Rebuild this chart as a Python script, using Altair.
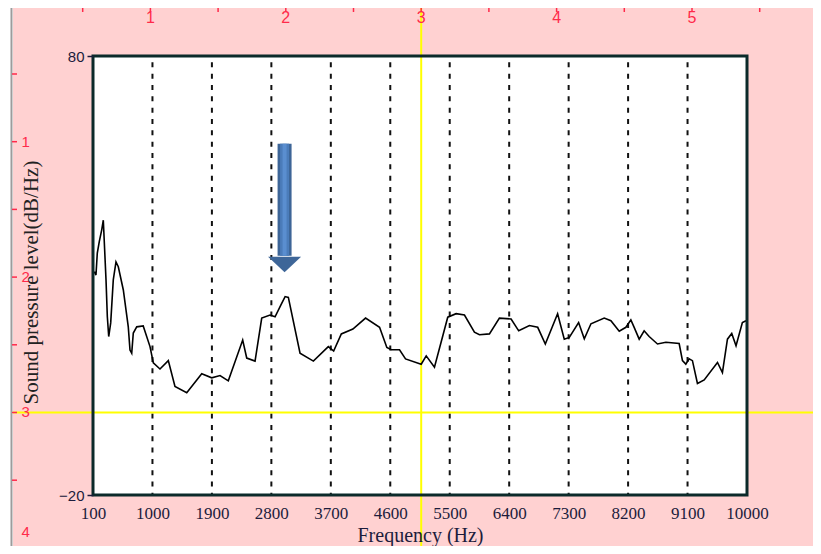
import altair as alt
import pandas as pd

# ---- spectrum ----
freq = [120, 145, 165, 195, 232, 256, 297, 317, 338, 368,
        407, 448, 483, 559, 600, 634, 660, 686, 710, 762,
        860, 963, 1013, 1114, 1240, 1341, 1519, 1746, 1897, 2023,
        2148, 2366, 2427, 2553, 2654, 2780, 2856, 2945, 3008, 3057,
        3234, 3436, 3662, 3743, 3859, 4034, 4226, 4438, 4548, 4615,
        4740, 4831, 5068, 5144, 5269, 5470, 5597, 5723, 5874, 5950,
        6101, 6252, 6429, 6544, 6706, 6832, 6947, 7133, 7234, 7310,
        7451, 7537, 7638, 7839, 7940, 8066, 8167, 8242, 8292, 8368,
        8443, 8519, 8645, 8772, 8973, 9023, 9074, 9124, 9174, 9250,
        9352, 9553, 9628, 9704, 9769, 9834, 9930, 9985]
spl = [30.9, 30.1, 35.1, 37.7, 40.4, 42.6, 29.0, 20.6, 16.1, 19.2,
       29.0, 33.1, 32.0, 26.7, 22.1, 18.3, 13.0, 12.3, 16.9, 18.3,
       18.5, 13.8, 10.1, 8.7, 10.6, 4.7, 3.3, 7.6, 6.7, 7.2,
       6.0, 15.3, 11.2, 10.5, 20.3, 21.0, 20.6, 23.3, 25.2, 25.0,
       12.3, 10.5, 13.8, 12.8, 16.7, 17.8, 20.3, 18.2, 13.6, 13.1,
       13.1, 11.0, 9.8, 11.7, 9.1, 20.5, 21.3, 21.0, 17.1, 16.5,
       16.7, 20.3, 20.1, 17.4, 18.6, 18.2, 14.4, 21.3, 15.5, 15.9,
       19.3, 15.6, 19.0, 20.3, 19.7, 17.3, 18.2, 19.9, 18.2, 15.5,
       17.4, 16.1, 14.4, 14.8, 14.5, 10.6, 9.8, 11.0, 10.6, 5.4,
       6.2, 10.2, 7.9, 15.5, 16.8, 14.0, 19.3, 19.7]

x_ticks = [100, 1000, 1900, 2800, 3700, 4600, 5500, 6400, 7300, 8200, 9100, 10000]
grid_x = x_ticks[1:-1]
y_ticks = [-20, 80]
x_domain = [100, 10000]
y_domain = [-20, 80]

# arrow annotation (Hz, dB)
arrow_freq = [3000]
arrow_top = [60.0]
arrow_bottom = [34.5]
arrow_head = [32.5]

# ruler (ruler units)
ruler_top_labels = [1, 2, 3, 4, 5]
ruler_top_ticks = [0.5, 1, 1.5, 2, 2.5, 3, 3.5, 4, 4.5, 5, 5.5]
ruler_left_labels = [1, 2, 3, 4]
ruler_left_label_pos = [1, 2, 3, 3.88]   # last one nudged up so it stays inside the page
ruler_left_ticks = [0.5, 1, 1.5, 2, 2.5, 3, 3.5, 4]
cursor_u = [3]
cursor_v = [3]
ruler_x_domain = [0.5761, 5.4062]
ruler_y_domain = [0.3671, 3.6093]

PINK = "#ffd1d1"
RED = "#ff2a4a"
YELLOW = "#ffff00"
INK = "#1c1c3c"
FRAME = "#0b2a2a"

W, H = 654, 439
HZ = alt.Scale(domain=x_domain, nice=False, zero=False)
DB = alt.Scale(domain=y_domain, nice=False, zero=False)
RX = alt.Scale(domain=ruler_x_domain, nice=False, zero=False)
RY = alt.Scale(domain=ruler_y_domain, nice=False, zero=False, reverse=True)


def RXc(f):
    return alt.X(f, type="quantitative", scale=RX, axis=None)


def RYc(f):
    return alt.Y(f, type="quantitative", scale=RY, axis=None)


def HXc(f):
    return alt.X(f, type="quantitative", scale=HZ, axis=None)


def DYc(f):
    return alt.Y(f, type="quantitative", scale=DB, axis=None)


# background chrome (ruler coordinates)
pink = alt.Chart(pd.DataFrame({"x0": [-0.0148], "x1": [6.2], "y0": [-0.1], "y1": [4.3]})).mark_rect(
    color=PINK).encode(x=RXc("x0"), x2="x1", y=RYc("y0"), y2="y1")
edge = alt.Chart(pd.DataFrame({"u": [-0.026], "y0": [-0.1], "y1": [4.3]})).mark_rule(
    color="#9c9c9c", strokeWidth=2).encode(x=RXc("u"), y=RYc("y0"), y2="y1")

white = alt.Chart(pd.DataFrame({"f0": [x_domain[0]], "f1": [x_domain[1]],
                                "d0": [y_domain[0]], "d1": [y_domain[1]]})).mark_rect(
    color="white").encode(x=HXc("f0"), x2="f1", y=DYc("d0"), y2="d1")

grid = alt.Chart(pd.DataFrame({"f": grid_x, "top": [y_domain[1]] * len(grid_x),
                               "bot": [y_domain[0]] * len(grid_x)})).mark_rule(
    color="#111111", strokeWidth=2, strokeDash=[5, 6.33], strokeDashOffset=5).encode(
    x=HXc("f"), y=DYc("top"), y2="bot")

yellow_h = alt.Chart(pd.DataFrame({"x0": [-0.0148], "x1": [6.2], "v": cursor_v})).mark_rule(
    color=YELLOW, strokeWidth=2).encode(x=RXc("x0"), x2="x1", y=RYc("v"))
yellow_v = alt.Chart(pd.DataFrame({"u": cursor_u, "y0": [0.0], "y1": [4.3]})).mark_rule(
    color=YELLOW, strokeWidth=2).encode(x=RXc("u"), y=RYc("y0"), y2="y1")

line = alt.Chart(pd.DataFrame({"freq": freq, "spl": spl})).mark_line(
    color="black", strokeWidth=1.6).encode(
    x=alt.X("freq:Q", scale=HZ, axis=alt.Axis(
        values=x_ticks, format="d", labelFont="Liberation Serif", labelFontSize=17,
        labelColor=INK, labelFlush=False, labelOverlap=False, labelBaseline="alphabetic",
        labelPadding=23, ticks=False, tickSize=0, domain=False, grid=False,
        title="Frequency (Hz)", titleFont="Liberation Serif", titleFontSize=20,
        titleFontWeight="normal", titleColor=INK, titleY=46, titleBaseline="alphabetic",
        zindex=1)),
    y=alt.Y("spl:Q", scale=DB, axis=alt.Axis(
        values=y_ticks, labelFont="Liberation Sans", labelFontSize=15, labelColor=INK,
        ticks=True, tickSize=6, tickColor=INK, tickWidth=1.5, labelPadding=3,
        domain=False, grid=False, labelOverlap=False, labelFlush=False,
        title="Sound pressure level(dB/Hz)", titleFont="Liberation Serif", titleFontSize=21,
        titleFontWeight="normal", titleColor="#222222", titleAngle=270, titleX=-56,
        titleY=226, titleAlign="center", titleBaseline="alphabetic", zindex=1)),
)

border = alt.Chart(pd.DataFrame({"f0": [x_domain[0]], "f1": [x_domain[1]],
                                 "d0": [y_domain[0]], "d1": [y_domain[1]]})).mark_rect(
    filled=False, color=FRAME, strokeWidth=3).encode(x=HXc("f0"), x2="f1", y=DYc("d0"), y2="d1")

arrow_df = pd.DataFrame({"f": arrow_freq, "top": arrow_top, "bot": arrow_bottom, "head": arrow_head})
shaft_outer = alt.Chart(arrow_df).mark_rule(color="#3d6597", strokeWidth=14).encode(
    x=HXc("f"), y=DYc("top"), y2="bot")
shaft_inner = alt.Chart(arrow_df).mark_rule(color="#4b7cba", strokeWidth=9).encode(
    x=HXc("f"), y=DYc("top"), y2="bot")
shaft_hi = alt.Chart(arrow_df).mark_rule(color="#5a8ed0", strokeWidth=4).encode(
    x=HXc("f"), y=DYc("top"), y2="bot")
head = alt.Chart(arrow_df).mark_point(
    shape="M -1 -0.47 L 1 -0.47 L 0 0.47 Z", size=1089, filled=True, color="#3e6698",
    opacity=1, strokeWidth=0).encode(x=HXc("f"), y=DYc("head"))

# ruler
top_ticks = alt.Chart(pd.DataFrame({"u": ruler_top_ticks, "y0": [0.005] * len(ruler_top_ticks),
                                    "y1": [0.042] * len(ruler_top_ticks)})).mark_rule(
    color=RED, strokeWidth=1.5).encode(x=RXc("u"), y=RYc("y0"), y2="y1")
top_labels = alt.Chart(pd.DataFrame({"u": ruler_top_labels, "v": [0.0864] * len(ruler_top_labels),
                                     "lab": [str(v) for v in ruler_top_labels]})).mark_text(
    color=RED, font="Liberation Sans", fontSize=16, align="center", baseline="middle").encode(
    x=RXc("u"), y=RYc("v"), text="lab:N")
left_ticks = alt.Chart(pd.DataFrame({"v": ruler_left_ticks, "x0": [-0.022] * len(ruler_left_ticks),
                                     "x1": [0.015] * len(ruler_left_ticks)})).mark_rule(
    color=RED, strokeWidth=1.5).encode(x=RXc("x0"), x2="x1", y=RYc("v"))
left_labels = alt.Chart(pd.DataFrame({"v": ruler_left_label_pos, "u": [0.078] * len(ruler_left_labels),
                                      "lab": [str(v) for v in ruler_left_labels]})).mark_text(
    color=RED, font="Liberation Sans", fontSize=15, align="center", baseline="middle").encode(
    x=RXc("u"), y=RYc("v"), text="lab:N")

chart = alt.layer(
    pink, edge, white, grid, yellow_h, yellow_v, line, border,
    shaft_outer, shaft_inner, shaft_hi, head,
    top_ticks, top_labels, left_ticks, left_labels,
).resolve_scale(x="independent", y="independent").properties(
    width=W, height=H,
    padding={"left": 85, "top": 48, "right": 66, "bottom": 51},
    autosize=alt.AutoSizeParams(type="none"),
).configure_view(stroke=None).configure(background="white")

chart.save("out.html", embed_options={"renderer": "svg", "actions": False})
